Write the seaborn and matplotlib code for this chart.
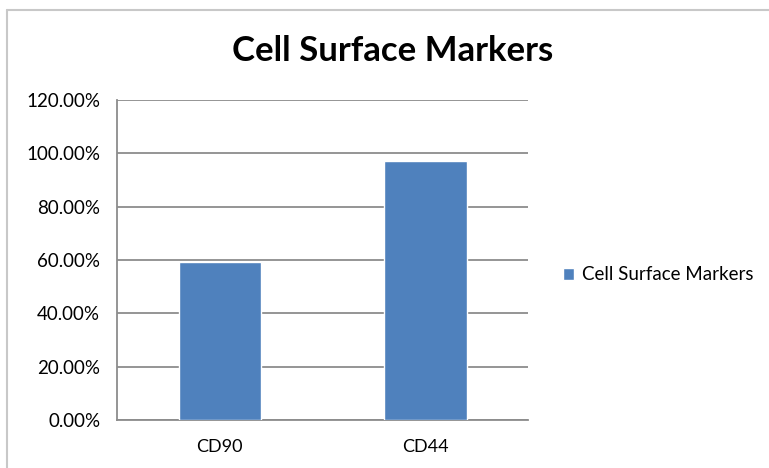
import seaborn as sns
import matplotlib.pyplot as plt
import pandas as pd
from matplotlib.ticker import PercentFormatter, FixedLocator
from matplotlib.lines import Line2D

# Dados
markers = ['CD90', 'CD44']
positive = [0.594, 0.970]
series_name = 'Cell Surface Markers'

df = pd.DataFrame({'Marker': markers, 'Positive': positive})

sns.set_style('white')
plt.rcParams['font.family'] = ['Lato', 'DejaVu Sans']
plt.rcParams['text.color'] = 'black'

fig = plt.figure(figsize=(7.69, 4.68), dpi=100)
ax = fig.add_axes([0.152, 0.1026, 0.535, 0.6838])

sns.barplot(data=df, x='Marker', y='Positive', color='#4F81BD', width=0.4,
            saturation=1, label=series_name, ax=ax, zorder=3)

# Eixos e grade
ax.set_ylim(0, 1.2)
ax.set_xlim(-0.5, 1.5)
ax.set_yticks([0, 0.2, 0.4, 0.6, 0.8, 1.0, 1.2])
ax.yaxis.set_major_formatter(PercentFormatter(xmax=1, decimals=2))
ax.grid(axis='y', color='#8c8c8c', linewidth=1.3, zorder=0)
ax.set_xlabel('')
ax.set_ylabel('')

for side in ['top', 'right']:
    ax.spines[side].set_visible(False)
for side in ['left', 'bottom']:
    ax.spines[side].set_color('#8c8c8c')
    ax.spines[side].set_linewidth(1.3)

ax.tick_params(axis='y', length=6, width=1.3, color='#8c8c8c', labelsize=13.5,
               labelcolor='black', pad=6)
ax.tick_params(axis='x', which='major', length=0, labelsize=13,
               labelcolor='black', pad=14)
ax.xaxis.set_minor_locator(FixedLocator([-0.5, 0.5, 1.5]))
ax.tick_params(axis='x', which='minor', length=6, width=1.3, color='#8c8c8c')

fig.suptitle(series_name, x=0.511, y=0.925, fontsize=25, fontweight='bold')

ax.legend(loc='center left', bbox_to_anchor=(0.71, 0.413), bbox_transform=fig.transFigure,
          frameon=False, fontsize=13.5, handlelength=0.6, handleheight=0.6,
          handletextpad=0.4)

# Borda do gráfico (topo e esquerda)
fig.add_artist(Line2D([0.009, 1.0], [0.979, 0.979], transform=fig.transFigure,
                      color='#c8c8c8', linewidth=1.5))
fig.add_artist(Line2D([0.009, 0.009], [0.0, 0.979], transform=fig.transFigure,
                      color='#c8c8c8', linewidth=1.5))

fig.savefig('out.png', dpi=100)
